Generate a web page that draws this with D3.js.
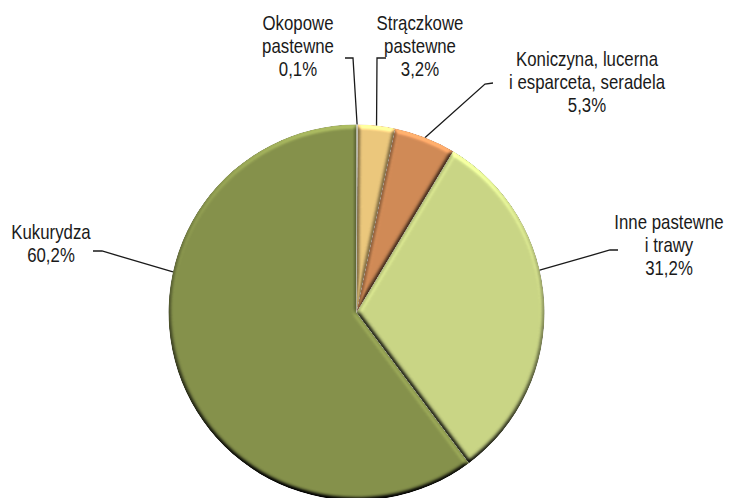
<!DOCTYPE html>
<html>
<head>
<meta charset="utf-8">
<script src="https://cdn.jsdelivr.net/npm/d3@7"></script>
<style>
  html, body { margin: 0; padding: 0; background: #fff; }
  svg { display: block; }
  text { font-family: "Liberation Sans", Arial, sans-serif; font-size: 20.5px; fill: #1a1a1a; }
</style>
</head>
<body>
<svg id="chart" width="729" height="498"></svg>
<script>
// ---- data ----
const categories = ["Okopowe pastewne", "Strączkowe pastewne", "Koniczyna, lucerna i esparceta, seradela", "Inne pastewne i trawy", "Kukurydza"];
const values = [0.1, 3.2, 5.3, 31.2, 60.2];
const valueLabels = ["0,1%", "3,2%", "5,3%", "31,2%", "60,2%"];
const labelLines = [
  ["Okopowe", "pastewne"],
  ["Strączkowe", "pastewne"],
  ["Koniczyna, lucerna", "i esparceta, seradela"],
  ["Inne pastewne", "i trawy"],
  ["Kukurydza"]
];
const colors = ["#DCDCC4", "#EBC77C", "#D08A56", "#C9D585", "#85914B"];

// ---- layout (positions/styles) ----
const cx = 356.5, cy = 312.5, R = 188;
const lineH = 23;
const narrow = 0.82;
const labelLayout = [
  { x: 298, y: 30, anchorDeg: null, elbow: [353, 58], tail: [345, 58] },
  { x: 420, y: 30, anchorDeg: null, elbow: [377, 58], tail: [386, 58] },
  { x: 587, y: 66, anchorDeg: null, elbow: [485, 84], tail: [493, 83] },
  { x: 669, y: 229, anchorDeg: 77, elbow: [610, 250], tail: [618, 250] },
  { x: 51, y: 239, anchorDeg: 282.5, elbow: [102, 251], tail: [93, 251] }
];

const svg = d3.select("#chart");
const defs = svg.append("defs");
const f = defs.append("filter").attr("id", "bevel")
  .attr("x", "-10%").attr("y", "-10%").attr("width", "120%").attr("height", "120%")
  .attr("color-interpolation-filters", "sRGB");
f.append("feGaussianBlur").attr("in", "SourceAlpha").attr("stdDeviation", 2.2).attr("result", "blur");
const dl = f.append("feDiffuseLighting").attr("in", "blur").attr("surfaceScale", 3.5)
  .attr("diffuseConstant", 1).attr("lighting-color", "#ffffff").attr("result", "light");
dl.append("feDistantLight").attr("azimuth", 275).attr("elevation", 50);
f.append("feComposite").attr("in", "SourceGraphic").attr("in2", "light")
  .attr("operator", "arithmetic").attr("k1", 1 / Math.sin(50 * Math.PI / 180)).attr("k2", 0).attr("k3", 0).attr("k4", 0)
  .attr("result", "lit");
f.append("feComposite").attr("in", "lit").attr("in2", "SourceAlpha").attr("operator", "in");

const pie = d3.pie().sort(null).value(d => d)(values);
const arc = d3.arc().innerRadius(0).outerRadius(R);

const g = svg.append("g").attr("transform", `translate(${cx},${cy})`);
g.selectAll("path.slice").data(pie).join("path")
  .attr("class", "slice")
  .attr("d", arc)
  .attr("fill", (d, i) => colors[i])
  .attr("filter", "url(#bevel)");

// leader lines
const pts = pie.map((d, i) => {
  const L = labelLayout[i];
  const a = L.anchorDeg != null ? L.anchorDeg * Math.PI / 180 : (d.startAngle + d.endAngle) / 2;
  const ax = cx + R * Math.sin(a), ay = cy - R * Math.cos(a);
  return [[ax, ay], L.elbow, L.tail];
});
svg.selectAll("path.leader").data(pts).join("path")
  .attr("class", "leader")
  .attr("d", d3.line())
  .attr("fill", "none")
  .attr("stroke", "#1a1a1a")
  .attr("stroke-width", 1.3);

// labels (horizontally condensed like Arial Narrow)
labelLayout.forEach((L, i) => {
  const t = svg.append("text").attr("text-anchor", "middle")
    .attr("transform", `translate(${L.x},0) scale(${narrow},1)`);
  const lines = labelLines[i].concat([valueLabels[i]]);
  lines.forEach((s, j) => {
    t.append("tspan").attr("x", 0).attr("y", L.y + j * lineH).text(s);
  });
});
</script>
</body>
</html>
